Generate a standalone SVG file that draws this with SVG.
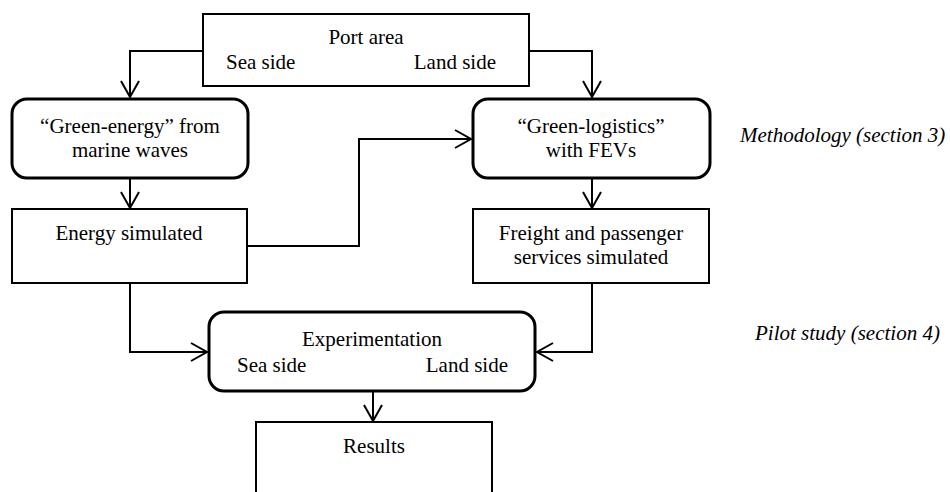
<svg xmlns="http://www.w3.org/2000/svg" width="950" height="492" viewBox="0 0 950 492">
<style>
  .box { fill: #ffffff; stroke: #000000; stroke-width: 2; }
  .rbox { fill: #ffffff; stroke: #000000; stroke-width: 3; }
  text { font-family: 'Liberation Serif', 'DejaVu Serif', serif; font-size: 21px; fill: #000000; }
  .c { text-anchor: middle; }
  .e { text-anchor: end; }
  .i { font-style: italic; }
  .conn { fill: none; stroke: #000000; stroke-width: 2; marker-end: url(#arrow); }
</style>
<defs>
  <marker id="arrow" markerUnits="userSpaceOnUse" markerWidth="24" markerHeight="24" viewBox="-20 -12 24 24" refX="0" refY="0" orient="auto">
    <path d="M-16,-9 L0,0 L-16,9" fill="none" stroke="#000000" stroke-width="2"/>
  </marker>
</defs>
<rect width="950" height="492" fill="#ffffff"/>
<g id="connectors">
  <path class="conn" d="M203,51 H130 V97"/>
  <path class="conn" d="M529,51 H592 V97"/>
  <path class="conn" d="M130,178 V208"/>
  <path class="conn" d="M592,178 V208"/>
  <path class="conn" d="M247,246 H359 V139 H471"/>
  <path class="conn" d="M130,283 V352 H207"/>
  <path class="conn" d="M592,283 V352 H537"/>
  <path class="conn" d="M373,391 V421"/>
</g>
<g font-family="Liberation Serif, serif">
<g id="port-area">
  <rect class="box" x="203" y="14" width="326" height="72"/>
  <text class="c" x="366" y="44">Port area</text>
  <text x="226" y="69">Sea side</text>
  <text class="e" x="496" y="69">Land side</text>
</g>
<g id="green-energy">
  <rect class="rbox" x="12" y="99" width="236" height="79" rx="15"/>
  <text class="c" x="130" y="133">“Green-energy” from</text>
  <text class="c" x="130" y="157">marine waves</text>
</g>
<g id="green-logistics">
  <rect class="rbox" x="473" y="99" width="237" height="79" rx="15"/>
  <text class="c" x="591" y="133">“Green-logistics”</text>
  <text class="c" x="591" y="157">with FEVs</text>
</g>
<g id="energy-simulated">
  <rect class="box" x="12" y="209" width="235" height="74"/>
  <text class="c" x="129" y="240">Energy simulated</text>
</g>
<g id="freight-simulated">
  <rect class="box" x="473" y="209" width="236" height="74"/>
  <text class="c" x="591" y="240">Freight and passenger</text>
  <text class="c" x="591" y="264">services simulated</text>
</g>
<g id="experimentation">
  <rect class="rbox" x="209" y="312" width="326" height="79" rx="15"/>
  <text class="c" x="372" y="346">Experimentation</text>
  <text x="237" y="372">Sea side</text>
  <text class="e" x="508" y="372">Land side</text>
</g>
<g id="results">
  <rect class="box" x="256" y="422" width="236" height="100"/>
  <text class="c" x="374" y="453">Results</text>
</g>
<g id="labels">
  <text class="i" x="740" y="142">Methodology (section 3)</text>
  <text class="i" x="755" y="340">Pilot study (section 4)</text>
</g>
</g>
</svg>
